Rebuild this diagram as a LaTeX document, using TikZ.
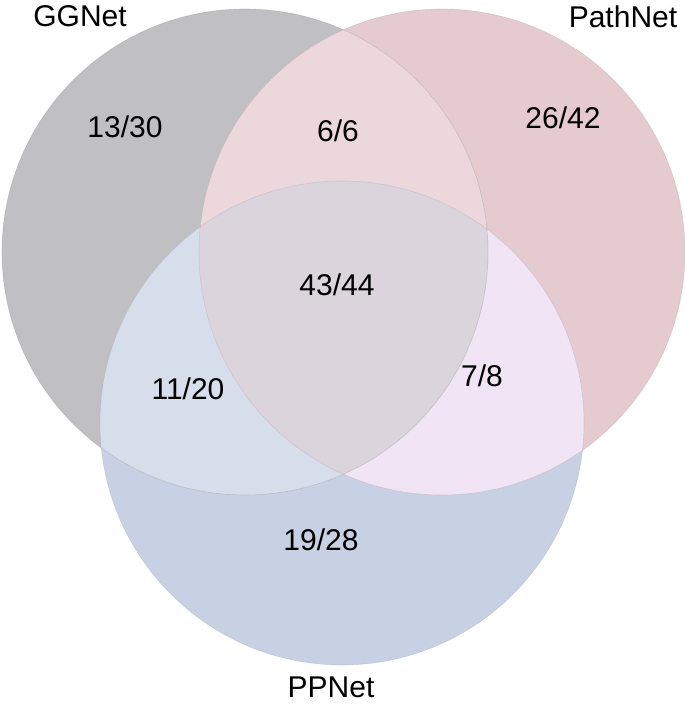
\documentclass[tikz,border=0pt]{standalone}
\usepackage{fontspec}
\setmainfont{Liberation Sans}
\usetikzlibrary{positioning}

\definecolor{ggfill}{HTML}{C0C0C2}
\definecolor{pathfill}{HTML}{E5CBCF}
\definecolor{ppfill}{HTML}{C8D1E3}
\definecolor{ggpath}{HTML}{ECD8DC}
\definecolor{ggpp}{HTML}{D6DDEB}
\definecolor{pathpp}{HTML}{F0E4F5}
\definecolor{allthree}{HTML}{DBD4DC}

\def\ggc{(245,252) circle (243)}
\def\pathc{(442,252) circle (243)}
\def\ppc{(342,423) circle (242)}

\begin{document}
\begin{tikzpicture}[x = 1pt, y = -1pt, count/.style = {font = \fontsize{30}{36}\selectfont, inner sep = 0pt}, rim/.style = {line width = 0.6pt, opacity = 0.3}]

\useasboundingbox (0,0) rectangle (685,704);

% the three sets
\fill[ggfill]		\ggc;
\fill[pathfill]		\pathc;
\fill[ppfill]		\ppc;

% pairwise overlaps
\begin{scope}
\clip \ggc;
\fill[ggpath] \pathc;
\fill[ggpp] \ppc;
\end{scope}
\begin{scope}
\clip \pathc;
\fill[pathpp] \ppc;
\end{scope}

% all three
\begin{scope}
\clip \ggc;
\clip \pathc;
\fill[allthree] \ppc;
\end{scope}

\draw[rim, ggfill!70!black]		\ggc;
\draw[rim, pathfill!75!black]	\pathc;
\draw[rim, ppfill!75!black]		\ppc;

\node[count]	(gg)		at (80,16)		{GGNet};
\node[count]	(path)		at (623,17)		{PathNet};
\node[count]	(pp)		at (331,687)	{PPNet};

\node[count]	(ggonly)	at (125,127)	{13/30};
\node[count]	(ggpa)		at (338,131)	{6/6};
\node[count]	(paonly)	at (563,118)	{26/42};
\node[count]	(mid)		at (337,285)	{43/44};
\node[count]	(ggppn)		at (188,389)	{11/20};
\node[count]	(pappn)		at (482,376)	{7/8};
\node[count]	(pponly)	at (321,540)	{19/28};

\end{tikzpicture}
\end{document}
